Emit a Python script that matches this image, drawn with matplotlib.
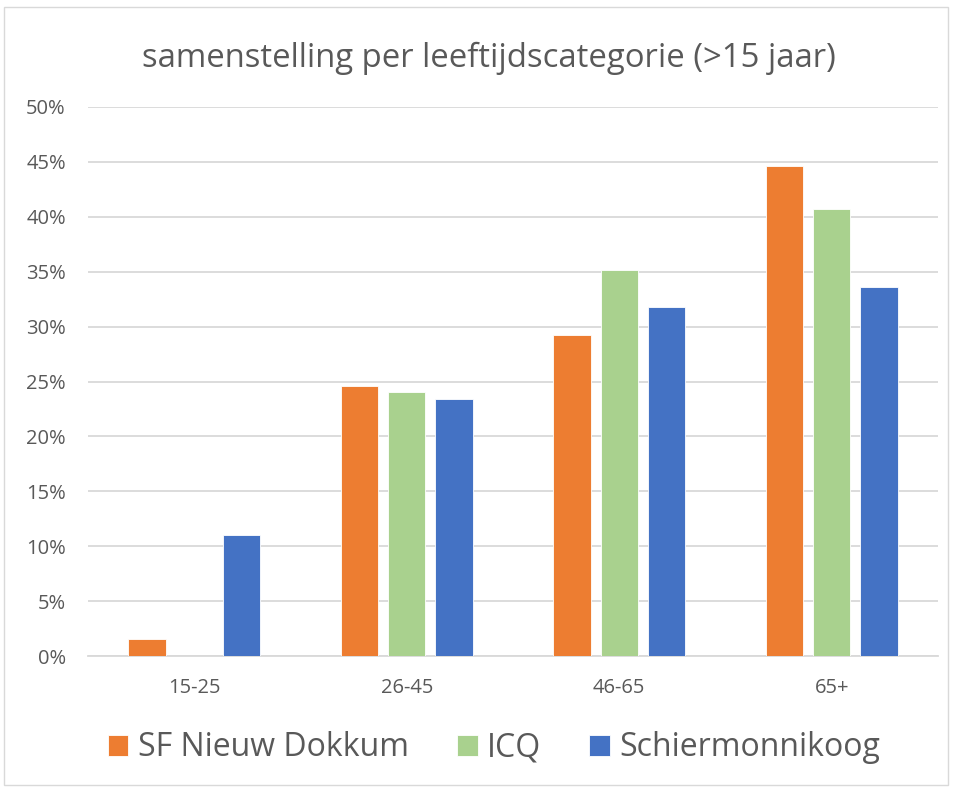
import matplotlib.pyplot as plt
import numpy as np
from matplotlib.patches import Rectangle

categories = ["15-25", "26-45", "46-65", "65+"]
series = ["SF Nieuw Dokkum", "ICQ", "Schiermonnikoog"]
sf_dokkum = [0.0155, 0.246, 0.292, 0.446]
icq = [0.0, 0.240, 0.352, 0.407]
schier = [0.110, 0.234, 0.318, 0.336]
colors = ["#ED7D31", "#A9D18E", "#4472C4"]

plt.rcParams['font.family'] = ['Open Sans', 'DejaVu Sans']
text_col = "#595959"

fig = plt.figure(figsize=(9.54, 7.9), dpi=100)
ax = fig.add_axes([88/954, 134/790, 850/954, 549/790])

x = np.arange(len(categories))
step = 0.222
width = 0.175
for i, (vals, name) in enumerate(zip([sf_dokkum, icq, schier], series)):
    ax.bar(x + (i - 1) * step, vals, width, color=colors[i], label=name,
           edgecolor="white", linewidth=0.6, zorder=3)

ax.set_xlim(-0.5, len(categories) - 0.5)
ax.set_ylim(0, 0.5)
ticks = np.arange(0, 0.51, 0.05)
ax.set_yticks(ticks)
ax.set_yticklabels(["{:d}%".format(int(round(v * 100))) for v in ticks])
ax.set_xticks(x)
ax.set_xticklabels(categories)
ax.yaxis.grid(True, color="#D9D9D9", linewidth=1.3, zorder=0)
ax.tick_params(axis="both", length=0, colors=text_col, labelsize=14.5)
ax.tick_params(axis="x", pad=16)
ax.tick_params(axis="y", pad=16)
for s in ["top", "right", "left"]:
    ax.spines[s].set_visible(False)
ax.spines["bottom"].set_color("#D9D9D9")
ax.spines["bottom"].set_linewidth(1.3)

fig.text(0.512, 1 - 58/790, "samenstelling per leeftijdscategorie (>15 jaar)",
         ha="center", va="center", fontsize=23.7, color=text_col)

fig.legend(loc="center", bbox_to_anchor=(0.518, 1 - 748/790), ncol=3, frameon=False,
           fontsize=23, labelcolor=text_col, handlelength=0.65, handleheight=0.65,
           handletextpad=0.3, columnspacing=1.5)

fig.patches.append(Rectangle((4/954, 5/790), 944/954, 778/790, transform=fig.transFigure,
                             fill=False, edgecolor="#D9D9D9", linewidth=1))

fig.savefig("out.png", dpi=100)
